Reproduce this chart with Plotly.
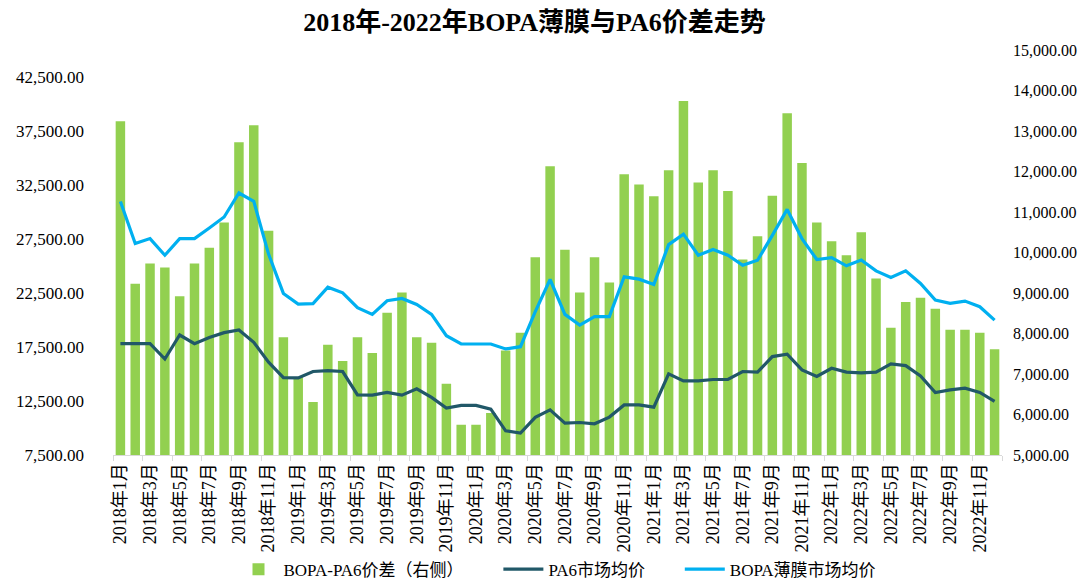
import plotly.graph_objects as go

months = [f"{y}年{m}月" for y in range(2018, 2023) for m in range(1, 13)]

spread = [13240, 9230, 9730, 9630, 8920, 9730, 10120, 10740, 12720, 13140, 10540, 7910,
          6920, 6310, 7720, 7320, 7910, 7520, 8510, 9010, 7910, 7770, 6760, 5750,
          5750, 6040, 7580, 8020, 9880, 12130, 10070, 9010, 9880, 9260, 11930, 11680,
          11390, 12030, 13740, 11730, 12030, 11520, 9830, 10400, 11400, 13440, 12210, 10740,
          10280, 9930, 10500, 9360, 8140, 8780, 8880, 8610, 8090, 8090, 8020, 7610]

pa6 = [17810, 17810, 17810, 16390, 18610, 17810, 18370, 18830, 19070, 17930, 16090, 14670,
       14640, 15230, 15320, 15230, 13070, 13040, 13290, 13040, 13620, 12830, 11840, 12090,
       12090, 11750, 9740, 9530, 10980, 11680, 10450, 10510, 10390, 11010, 12140, 12140,
       11930, 15010, 14360, 14360, 14490, 14490, 15230, 15170, 16610, 16830, 15380, 14770,
       15530, 15170, 15110, 15170, 15930, 15780, 14820, 13290, 13530, 13690, 13290, 12460]

bopa = [30980, 27080, 27540, 26000, 27540, 27540, 28520, 29540, 31760, 30980, 26100, 22460,
        21480, 21510, 23040, 22520, 21140, 20520, 21780, 22000, 21440, 20520, 18550, 17780,
        17780, 17780, 17320, 17530, 20770, 23750, 20520, 19530, 20310, 20310, 24000, 23780,
        23290, 26980, 27950, 26000, 26520, 26000, 25070, 25530, 27840, 30240, 27540, 25600,
        25780, 25020, 25560, 24550, 23940, 24550, 23380, 21840, 21540, 21750, 21230, 19990]

left_ticks = [7500, 12500, 17500, 22500, 27500, 32500, 37500, 42500]
right_ticks = [5000, 6000, 7000, 8000, 9000, 10000, 11000, 12000, 13000, 14000, 15000]

FONT = "Liberation Serif, 'Times New Roman', 'Noto Sans CJK SC', serif"
PAD = "\u00a0" * 7

x = list(range(len(months)))

fig = go.Figure()
fig.add_trace(go.Bar(x=x, y=spread, name="BOPA-PA6价差（右侧）" + PAD,
                     marker=dict(color="#92D050", line=dict(width=0)), yaxis="y"))
fig.add_trace(go.Scatter(x=x, y=pa6, name="PA6市场均价" + PAD, mode="lines",
                         line=dict(color="#215868", width=3.2), yaxis="y2"))
fig.add_trace(go.Scatter(x=x, y=bopa, name="BOPA薄膜市场均价", mode="lines",
                         line=dict(color="#00B0F0", width=3.2), yaxis="y2"))

fig.update_layout(
    width=1090, height=583,
    margin=dict(l=105, r=96, t=42, b=136, autoexpand=False),
    paper_bgcolor="white", plot_bgcolor="white",
    font=dict(family=FONT, size=17, color="#000000"),
    title=dict(text="<b>2018年-2022年BOPA薄膜与PA6价差走势</b>",
               x=0.483, xanchor="center", y=0.977, yanchor="middle",
               font=dict(family=FONT, size=26, color="#000000")),
    bargap=0.36,
    showlegend=True,
    legend=dict(orientation="h", x=0.5, xanchor="center", y=-0.283, yanchor="middle",
                font=dict(family=FONT, size=17), itemwidth=40, traceorder="normal",
                bgcolor="rgba(0,0,0,0)"),
    xaxis=dict(
        range=[-0.5, 59.5], tickmode="array", tickvals=x[::2], ticktext=months[::2],
        tickangle=-90, ticks="", showgrid=False, zeroline=False,
        showline=True, linecolor="#D9D9D9", linewidth=1,
        tickfont=dict(family=FONT, size=18),
        minor=dict(tickmode="array", tickvals=[i - 0.5 for i in range(0, 61, 2)],
                   ticks="outside", ticklen=5, tickcolor="#D9D9D9", tickwidth=1, showgrid=False),
    ),
    yaxis=dict(
        side="right", range=[5000, 15000], tickmode="array", tickvals=right_ticks,
        ticktext=[f"{v:,.2f}" for v in right_ticks], showgrid=False, zeroline=False,
        showline=False, ticks="", ticklabelstandoff=10,
        tickfont=dict(family=FONT, size=16),
    ),
    yaxis2=dict(
        side="left", overlaying="y", range=[7500, 45000], tickmode="array",
        tickvals=left_ticks, ticktext=[f"{v:,.2f}" for v in left_ticks],
        showgrid=False, zeroline=False, showline=False, ticks="", ticklabelstandoff=28,
        tickfont=dict(family=FONT, size=17),
    ),
)

fig.write_html("out.html")
